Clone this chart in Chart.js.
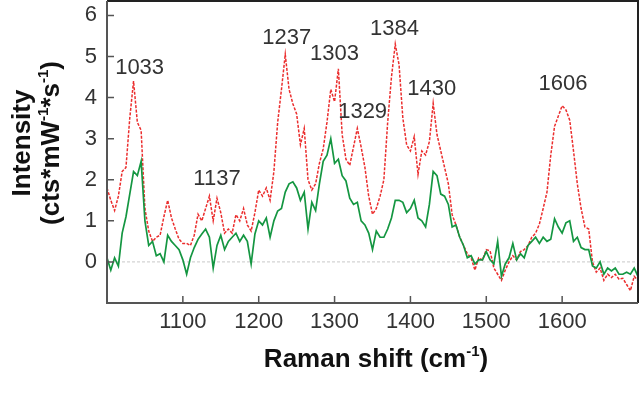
<!DOCTYPE html>
<html>
<head>
<meta charset="utf-8">
<script src="https://cdn.jsdelivr.net/npm/chart.js@4.4.0/dist/chart.umd.min.js"></script>
<style>
html,body{margin:0;padding:0;background:#fff;}
</style>
</head>
<body>
<canvas id="raman" width="640" height="394"></canvas>
<script>
// Raman shift grid (cm-1)
var shift = [1000,1005,1010,1015,1020,1025,1030,1035,1040,1045,1050,1055,1060,1065,1070,1075,1080,1085,1090,1095,
  1100,1105,1110,1115,1120,1125,1130,1135,1140,1145,1150,1155,1160,1165,1170,1175,1180,1185,1190,1195,
  1200,1205,1210,1215,1220,1225,1230,1235,1240,1245,1250,1255,1260,1265,1270,1275,1280,1285,1290,1295,
  1300,1305,1310,1315,1320,1325,1330,1335,1340,1345,1350,1355,1360,1365,1370,1375,1380,1385,1390,1395,
  1400,1405,1410,1415,1420,1425,1430,1435,1440,1445,1450,1455,1460,1465,1470,1475,1480,1485,1490,1495,
  1500,1505,1510,1515,1520,1525,1530,1535,1540,1545,1550,1555,1560,1565,1570,1575,1580,1585,1590,1595,
  1600,1605,1610,1615,1620,1625,1630,1635,1640,1645,1650,1655,1660,1665,1670,1675,1680,1685,1690,1695,
  1700];

var redSpec = [1.8,1.5,1.25,1.6,2.2,2.3,3.5,4.4,3.4,3.2,1.3,0.75,0.5,0.6,0.65,1.1,1.5,1.07,0.8,0.55,
  0.45,0.45,0.4,0.65,1.16,1.0,1.3,1.6,1.0,1.55,1.2,0.7,0.8,0.7,1.15,1.0,1.3,0.9,0.75,1.2,
  1.75,1.6,1.8,1.5,2.2,3.4,4.2,5.05,4.2,3.85,3.6,2.85,3.25,2.0,1.75,1.9,2.4,2.75,3.4,4.2,
  3.9,4.7,3.1,2.5,2.35,2.8,3.25,2.8,2.3,1.6,1.16,1.3,1.6,2.0,3.4,4.5,5.3,4.8,3.5,2.85,
  2.7,3.05,2.13,2.7,2.6,2.93,3.86,3.1,2.7,2.3,1.9,1.15,0.9,0.6,0.4,0.2,0.1,-0.2,0.1,0.05,
  0.3,0.27,-0.15,-0.3,-0.45,-0.2,0.0,0.15,0.05,0.25,0.3,0.4,0.6,0.7,0.92,1.3,1.7,2.6,3.3,3.55,
  3.8,3.7,3.45,2.7,1.9,1.3,0.85,0.8,0.0,-0.25,-0.15,-0.45,-0.3,-0.38,-0.3,-0.42,-0.4,-0.55,-0.7,-0.35,
  -0.45];

var greenSpec = [0.1,-0.2,0.1,-0.1,0.7,1.1,1.65,2.2,2.1,2.45,1.0,0.4,0.5,0.15,0.2,0.0,0.65,0.5,0.4,0.3,
  0.05,-0.3,0.1,0.35,0.55,0.68,0.8,0.6,-0.15,0.4,0.65,0.3,0.5,0.6,0.7,0.5,0.65,0.5,-0.05,0.68,
  1.0,0.9,1.07,0.6,1.0,1.24,1.3,1.7,1.9,1.95,1.8,1.5,1.7,0.8,1.45,1.25,1.9,2.45,2.6,3.0,
  2.4,2.5,2.1,1.97,1.55,1.4,1.45,1.0,0.9,0.7,0.3,0.75,0.6,0.6,0.8,1.07,1.5,1.5,1.45,1.2,
  1.3,1.5,1.07,1.0,0.85,1.4,2.2,2.1,1.65,1.6,1.4,0.85,0.9,0.6,0.4,0.1,0.15,-0.05,0.05,0.05,
  0.25,0.05,-0.05,0.5,-0.35,-0.05,0.1,0.45,0.05,0.2,0.1,0.4,0.5,0.6,0.45,0.6,0.5,0.55,1.05,0.85,
  0.7,0.95,1.0,0.5,0.6,0.35,0.3,0.3,-0.1,-0.15,0.0,-0.3,-0.15,-0.22,-0.15,-0.3,-0.3,-0.25,-0.3,-0.15,
  -0.35];

// peak labels and where they sit (data units)
var peakText = ["1033","1137","1237","1303","1329","1384","1430","1606"];
var peakAtX  = [1043,1145,1237,1300,1337,1379,1428,1601];
var peakAtY  = [4.73,2.01,5.46,5.07,3.64,5.66,4.2,4.32];

var xTicks = [1100,1200,1300,1400,1500,1600];
var yTicks = [0,1,2,3,4,5,6];

var FONT = '"Liberation Sans", Arial, Helvetica, sans-serif';

function pts(ys) {
  return shift.map(function(x, i){ return {x: x, y: ys[i]}; });
}

function richText(ctx, parts, x, y, big, small) {
  var w = 0;
  parts.forEach(function(p){
    ctx.font = 'bold ' + (p[1] ? small : big) + 'px ' + FONT;
    w += ctx.measureText(p[0]).width;
  });
  var cx = x - w / 2;
  ctx.textAlign = 'left';
  ctx.textBaseline = 'middle';
  parts.forEach(function(p){
    ctx.font = 'bold ' + (p[1] ? small : big) + 'px ' + FONT;
    ctx.fillText(p[0], cx, p[1] ? y - big * 0.32 : y);
    cx += ctx.measureText(p[0]).width;
  });
}

var decor = {
  id: 'decor',
  beforeDatasetsDraw: function(chart) {
    var ctx = chart.ctx, a = chart.chartArea, ys = chart.scales.y;
    var y0 = ys.getPixelForValue(0);
    ctx.save();
    ctx.strokeStyle = '#c8c8c8';
    ctx.lineWidth = 1;
    ctx.setLineDash([3, 2]);
    ctx.beginPath();
    ctx.moveTo(a.left, y0);
    ctx.lineTo(a.right, y0);
    ctx.stroke();
    ctx.restore();
  },
  afterDraw: function(chart) {
    var ctx = chart.ctx, a = chart.chartArea;
    var xs = chart.scales.x, ys = chart.scales.y;
    ctx.save();
    // frame
    ctx.lineWidth = 2;
    ctx.strokeStyle = '#222';
    ctx.beginPath();
    ctx.moveTo(a.left, a.top); ctx.lineTo(a.right, a.top); ctx.lineTo(a.right, a.bottom);
    ctx.stroke();
    ctx.strokeStyle = '#555';
    ctx.beginPath();
    ctx.moveTo(a.left, a.top); ctx.lineTo(a.left, a.bottom); ctx.lineTo(a.right, a.bottom);
    ctx.stroke();
    // inward ticks
    ctx.lineWidth = 1.5;
    ctx.beginPath();
    yTicks.forEach(function(v){
      var p = ys.getPixelForValue(v);
      ctx.moveTo(a.left, p); ctx.lineTo(a.left + 7, p);
    });
    xTicks.forEach(function(v){
      var p = xs.getPixelForValue(v);
      ctx.moveTo(p, a.bottom); ctx.lineTo(p, a.bottom - 7);
    });
    ctx.stroke();
    // peak labels
    ctx.fillStyle = '#333';
    ctx.font = '22px ' + FONT;
    ctx.textAlign = 'center';
    ctx.textBaseline = 'middle';
    peakText.forEach(function(t, i){
      ctx.fillText(t, xs.getPixelForValue(peakAtX[i]), ys.getPixelForValue(peakAtY[i]));
    });
    // axis titles
    ctx.fillStyle = '#111';
    richText(ctx, [['Raman shift (cm', 0], ['-1', 1], [')', 0]], 376, 360, 26, 15);
    ctx.translate(23, 143);
    ctx.rotate(-Math.PI / 2);
    richText(ctx, [['Intensity', 0]], 0, 0, 26, 15);
    ctx.translate(0, 29);
    richText(ctx, [['(cts*mW', 0], ['-1', 1], ['*s', 0], ['-1', 1], [')', 0]], 0, 0, 26, 15);
    ctx.restore();
  }
};

new Chart(document.getElementById('raman').getContext('2d'), {
  type: 'line',
  data: {
    datasets: [
      {
        label: 'green',
        data: pts(greenSpec),
        borderColor: 'rgb(20,150,65)',
        borderWidth: 1.7,
        pointRadius: 0,
        tension: 0,
        fill: false
      },
      {
        label: 'red',
        data: pts(redSpec),
        borderColor: 'rgb(235,45,45)',
        borderWidth: 1.5,
        borderDash: [3, 1.5],
        pointRadius: 0,
        tension: 0,
        fill: false
      }
    ]
  },
  options: {
    responsive: false,
    animation: false,
    devicePixelRatio: 1,
    layout: { padding: { top: 1, right: 2, left: 0, bottom: 0 } },
    plugins: { legend: { display: false }, tooltip: { enabled: false } },
    scales: {
      x: {
        type: 'linear',
        min: 1000,
        max: 1700,
        grid: { display: false, drawTicks: false },
        border: { display: false },
        ticks: {
          stepSize: 100,
          includeBounds: false,
          padding: 6,
          color: '#333',
          maxRotation: 0,
          autoSkip: false,
          font: { family: FONT, size: 22 },
          callback: function(v){ return xTicks.indexOf(v) >= 0 ? String(v) : ''; }
        },
        afterFit: function(s){
          s.height = 91;
          s.paddingLeft = 0; s.paddingRight = 0;
        }
      },
      y: {
        min: -1,
        max: 6.35,
        grid: { display: false, drawTicks: false },
        border: { display: false },
        ticks: {
          stepSize: 1,
          includeBounds: false,
          padding: 10,
          color: '#333',
          autoSkip: false,
          font: { family: FONT, size: 22 },
          callback: function(v){ return yTicks.indexOf(v) >= 0 ? String(v) : ''; }
        },
        afterFit: function(s){
          s.width = 107;
          s.paddingTop = 0; s.paddingBottom = 0;
        }
      }
    }
  },
  plugins: [decor]
});
</script>
</body>
</html>
